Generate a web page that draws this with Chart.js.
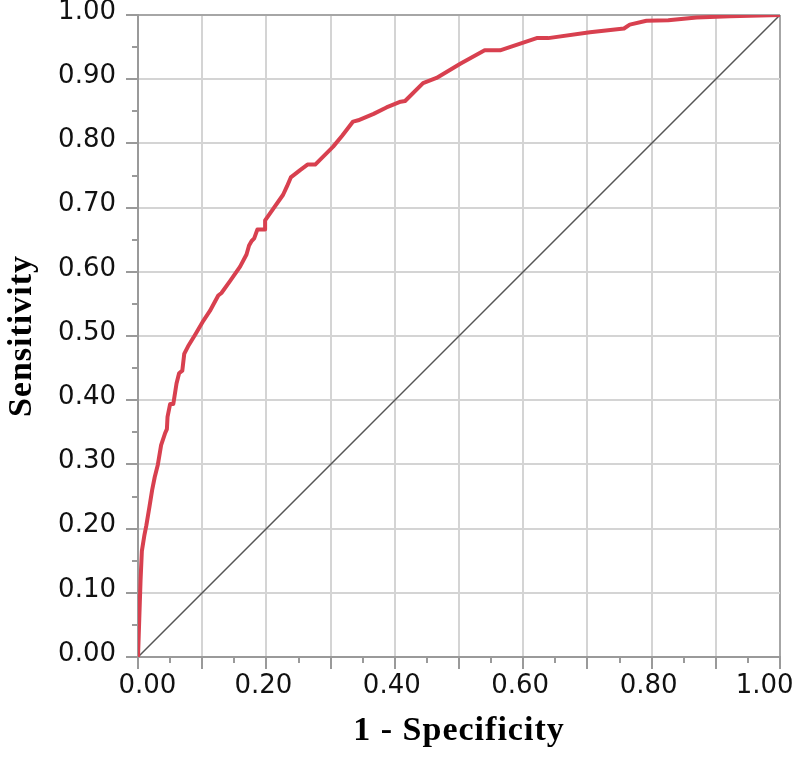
<!DOCTYPE html>
<html><head><meta charset="utf-8">
<script src="https://cdn.jsdelivr.net/npm/chart.js@4.4.1/dist/chart.umd.min.js"></script>
<style>html,body{margin:0;padding:0;background:#fff;} canvas{display:block;}</style>
</head><body>
<canvas id="c" width="800" height="757"></canvas>
<script>
// ROC curve (1 - Specificity, Sensitivity)
const fpr = [0, 0.002, 0.004, 0.006, 0.010, 0.013, 0.018, 0.022, 0.026, 0.031, 0.036, 0.042, 0.045, 0.046, 0.050, 0.055, 0.060, 0.064, 0.069, 0.072, 0.078, 0.089, 0.102, 0.112, 0.125, 0.130, 0.143, 0.159, 0.169, 0.173, 0.177, 0.181, 0.186, 0.198, 0.198, 0.207, 0.226, 0.232, 0.238, 0.252, 0.264, 0.276, 0.304, 0.318, 0.335, 0.343, 0.367, 0.387, 0.409, 0.416, 0.444, 0.465, 0.502, 0.540, 0.564, 0.621, 0.639, 0.704, 0.757, 0.766, 0.792, 0.826, 0.870, 0.922, 1.0];
const tpr = [0, 0.060, 0.120, 0.165, 0.190, 0.205, 0.235, 0.260, 0.280, 0.300, 0.330, 0.348, 0.355, 0.374, 0.394, 0.394, 0.426, 0.442, 0.446, 0.472, 0.484, 0.502, 0.524, 0.539, 0.563, 0.567, 0.585, 0.608, 0.627, 0.641, 0.648, 0.652, 0.666, 0.666, 0.680, 0.693, 0.720, 0.733, 0.747, 0.758, 0.767, 0.767, 0.795, 0.812, 0.834, 0.836, 0.846, 0.856, 0.865, 0.866, 0.894, 0.902, 0.924, 0.945, 0.945, 0.964, 0.964, 0.973, 0.979, 0.985, 0.991, 0.992, 0.996, 0.998, 1.0];
// Reference diagonal
const refX = [0, 1];
const refY = [0, 1];
// Tick labels
const xTickLabels = ['0.00', '0.20', '0.40', '0.60', '0.80', '1.00'];
const yTickLabels = ['0.00', '0.10', '0.20', '0.30', '0.40', '0.50', '0.60', '0.70', '0.80', '0.90', '1.00'];
const minorTickValues = [0.05, 0.15, 0.25, 0.35, 0.45, 0.55, 0.65, 0.75, 0.85, 0.95];
const xTitle = '1 - Specificity';
const yTitle = 'Sensitivity';

const rocPoints = fpr.map((x, i) => ({x: x, y: tpr[i]}));
const refPoints = refX.map((x, i) => ({x: x, y: refY[i]}));

function findLabel(list, value) {
  const s = (Math.round(value * 100) / 100).toFixed(2);
  const i = list.indexOf(s);
  return i >= 0 ? list[i] : '';
}

const minorTicks = {
  id: 'minorTicks',
  afterDraw(chart) {
    const {ctx, chartArea: a} = chart;
    const xs = chart.scales.x, ys = chart.scales.y;
    ctx.save();
    ctx.strokeStyle = '#9a9a9a';
    ctx.lineWidth = 2;
    ctx.beginPath();
    minorTickValues.forEach(v => {
      const px = Math.round(xs.getPixelForValue(v));
      ctx.moveTo(px, a.bottom); ctx.lineTo(px, a.bottom + 6);
      const py = Math.round(ys.getPixelForValue(v));
      ctx.moveTo(a.left, py); ctx.lineTo(a.left - 6, py);
    });
    ctx.stroke();
    ctx.restore();
  }
};

const titleSpacing = {
  id: 'titleSpacing',
  beforeDraw(chart) {
    ['x', 'y'].forEach(id => {
      const s = chart.scales[id];
      if (s && !s._spacedTitle) {
        const orig = s.drawTitle.bind(s);
        s.drawTitle = function () {
          const ctx = this.ctx;
          ctx.save();
          try { ctx.letterSpacing = '1px'; } catch (e) {}
          orig();
          ctx.restore();
        };
        s._spacedTitle = true;
      }
    });
  }
};

const gridColor = (c) => (Math.abs(c.tick.value - 1) < 1e-6 ? '#a6a6a6' : '#d4d4d4');

new Chart(document.getElementById('c'), {
  type: 'scatter',
  data: {
    datasets: [
      {
        data: rocPoints,
        showLine: true,
        borderColor: '#d8404f',
        backgroundColor: '#d8404f',
        borderWidth: 4,
        pointRadius: 0,
        tension: 0,
        borderJoinStyle: 'round',
        borderCapStyle: 'round',
        order: 0
      },
      {
        data: refPoints,
        showLine: true,
        borderColor: '#555555',
        borderWidth: 1.5,
        pointRadius: 0,
        tension: 0,
        order: 1
      }
    ]
  },
  options: {
    responsive: false,
    animation: false,
    events: [],
    layout: { padding: { left: 2, right: 20, top: 15, bottom: 5 } },
    plugins: { legend: { display: false }, tooltip: { enabled: false } },
    scales: {
      x: {
        type: 'linear',
        min: 0, max: 1,
        afterFit(scale) { scale.height = 95; scale.paddingLeft = 0; scale.paddingRight = 0; },
        ticks: {
          stepSize: 0.1,
          autoSkip: false,
          maxRotation: 0,
          padding: 2,
          labelOffset: -3,
          color: '#111111',
          font: { family: 'DejaVu Sans', size: 26 },
          callback: (v) => {
            const s = findLabel(xTickLabels, v);
            if (s === xTickLabels[0]) return '   ' + s;
            if (s === xTickLabels[xTickLabels.length - 1]) return s + '   ';
            return s;
          }
        },
        grid: {
          color: gridColor,
          lineWidth: 2,
          tickLength: 12,
          tickColor: '#9a9a9a',
          tickWidth: 2
        },
        border: { color: '#9a9a9a', width: 2 },
        title: {
          display: true,
          text: xTitle,
          color: '#000000',
          padding: 0,
          font: { family: 'Liberation Serif', size: 34, weight: 'bold' }
        }
      },
      y: {
        type: 'linear',
        min: 0, max: 1,
        afterFit(scale) { scale.width = 136; scale.paddingTop = 0; scale.paddingBottom = 0; },
        ticks: {
          stepSize: 0.1,
          autoSkip: false,
          padding: 10,
          labelOffset: -3,
          color: '#111111',
          font: { family: 'DejaVu Sans', size: 26 },
          callback: (v) => findLabel(yTickLabels, v)
        },
        grid: {
          color: gridColor,
          lineWidth: 2,
          tickLength: 12,
          tickColor: '#9a9a9a',
          tickWidth: 2
        },
        border: { color: '#9a9a9a', width: 2 },
        title: {
          display: true,
          text: yTitle,
          color: '#000000',
          padding: 0,
          font: { family: 'Liberation Serif', size: 34, weight: 'bold' }
        }
      }
    }
  },
  plugins: [minorTicks, titleSpacing]
});
</script>
</body></html>
